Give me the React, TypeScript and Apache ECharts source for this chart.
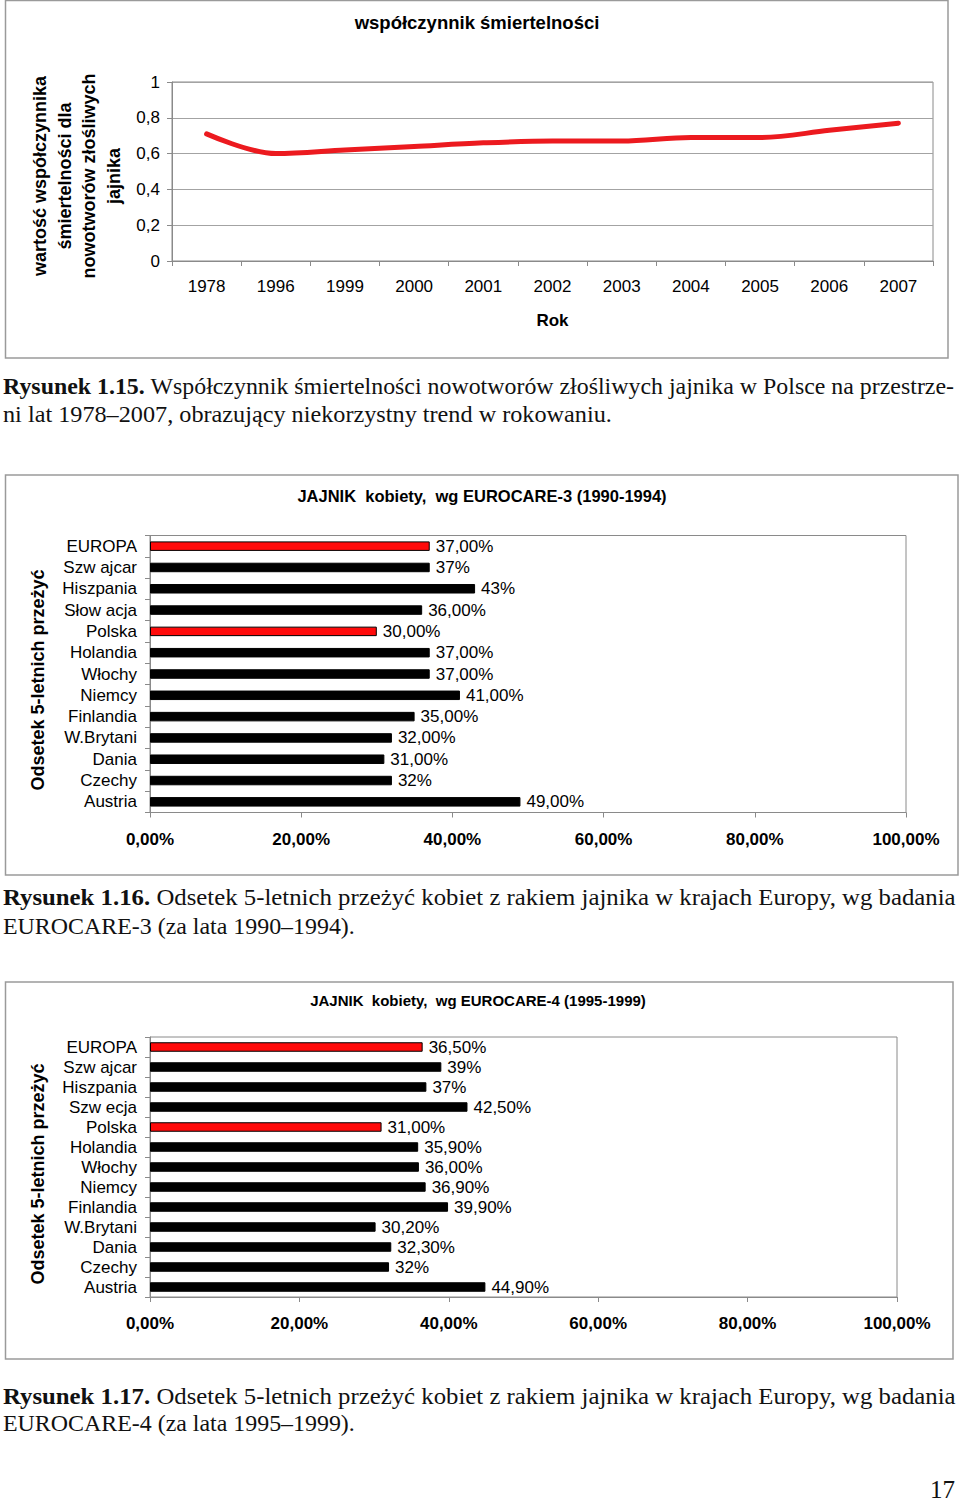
import React, { useEffect, useRef } from "react";
import * as echarts from "echarts";

// ---------- DATA ----------
const years = ["1978", "1996", "1999", "2000", "2001", "2002", "2003", "2004", "2005", "2006", "2007"];
const mortality = [0.71, 0.6, 0.62, 0.64, 0.66, 0.67, 0.67, 0.69, 0.69, 0.73, 0.77];
const mortalityTicks = [0, 0.2, 0.4, 0.6, 0.8, 1];

const countries3 = ["EUROPA", "Szw ajcar", "Hiszpania", "Słow acja", "Polska", "Holandia", "Włochy", "Niemcy", "Finlandia", "W.Brytani", "Dania", "Czechy", "Austria"];
const survival3 = [37, 37, 43, 36, 30, 37, 37, 41, 35, 32, 31, 32, 49];
const survival3Labels = ["37,00%", "37%", "43%", "36,00%", "30,00%", "37,00%", "37,00%", "41,00%", "35,00%", "32,00%", "31,00%", "32%", "49,00%"];

const countries4 = ["EUROPA", "Szw ajcar", "Hiszpania", "Szw ecja", "Polska", "Holandia", "Włochy", "Niemcy", "Finlandia", "W.Brytani", "Dania", "Czechy", "Austria"];
const survival4 = [36.5, 39, 37, 42.5, 31, 35.9, 36, 36.9, 39.9, 30.2, 32.3, 32, 44.9];
const survival4Labels = ["36,50%", "39%", "37%", "42,50%", "31,00%", "35,90%", "36,00%", "36,90%", "39,90%", "30,20%", "32,30%", "32%", "44,90%"];

const highlighted = ["EUROPA", "Polska"];
const percentTicks = [0, 20, 40, 60, 80, 100];

const title1 = "współczynnik śmiertelności";
const yName1 = "wartość współczynnika\nśmiertelności dla\nnowotworów złośliwych\njajnika";
const xName1 = "Rok";
const title2 = "JAJNIK  kobiety,  wg EUROCARE-3 (1990-1994)";
const title3 = "JAJNIK  kobiety,  wg EUROCARE-4 (1995-1999)";
const yNameBars = "Odsetek 5-letnich przeżyć";

const captionLines = [
  { bold: "Rysunek 1.15.", rest: " Współczynnik śmiertelności nowotworów złośliwych jajnika w Polsce na przestrze-", y: 386, w: 952 },
  { bold: "", rest: "ni lat 1978–2007, obrazujący niekorzystny trend w rokowaniu.", y: 414, w: 609 },
  { bold: "Rysunek 1.16.", rest: " Odsetek 5-letnich przeżyć kobiet z rakiem jajnika w krajach Europy, wg badania", y: 897, w: 953 },
  { bold: "", rest: "EUROCARE-3 (za lata 1990–1994).", y: 926, w: 352 },
  { bold: "Rysunek 1.17.", rest: " Odsetek 5-letnich przeżyć kobiet z rakiem jajnika w krajach Europy, wg badania", y: 1396, w: 953 },
  { bold: "", rest: "EUROCARE-4 (za lata 1995–1999).", y: 1423, w: 352 },
];
const pageNumber = "17";

// ---------- STYLE ----------
const SANS = '"Liberation Sans", Arial, sans-serif';
const SERIF = '"Liberation Serif", "Times New Roman", serif';
const GRAY = "#8a8a8a";
const BOX = "#9a9a9a";
const CAP_SIZE = 22.5;

function measure(text: string, bold: boolean, size: number): number {
  const c = document.createElement("canvas");
  const ctx = c.getContext("2d");
  if (!ctx) return text.length * size * 0.45;
  ctx.font = `${bold ? "bold " : ""}${size}px "Liberation Serif"`;
  return ctx.measureText(text).width;
}

const pct = (v: number) => v.toFixed(2).replace(".", ",") + "%";

function barSeries(values: number[], cats: string[], labels: string[], idx: number) {
  return {
    type: "bar",
    xAxisIndex: idx,
    yAxisIndex: idx,
    barWidth: 9.5,
    data: values.map((v, i) => ({
      value: v,
      itemStyle: {
        color: highlighted.includes(cats[i]) ? "#ff0a0a" : "#000000",
        borderColor: "#000",
        borderWidth: 1,
      },
    })),
    label: {
      show: true,
      position: "right",
      distance: 6,
      color: "#000",
      fontFamily: SANS,
      fontSize: 17,
      formatter: (p: any) => labels[p.dataIndex],
    },
  };
}

function barXAxis(idx: number) {
  return {
    type: "value",
    gridIndex: idx,
    min: 0,
    max: 100,
    interval: 20,
    axisLine: { show: true, lineStyle: { color: GRAY, width: 1 } },
    axisTick: { show: true, length: 5, lineStyle: { color: GRAY } },
    splitLine: { show: false },
    axisLabel: {
      margin: 18,
      color: "#000",
      fontFamily: SANS,
      fontSize: 17,
      fontWeight: "bold",
      formatter: (v: number) => pct(v),
      customValues: percentTicks,
    },
  };
}

function barYAxis(idx: number, cats: string[]) {
  return {
    type: "category",
    gridIndex: idx,
    inverse: true,
    data: cats,
    axisLine: { show: true, lineStyle: { color: GRAY, width: 1 } },
    axisTick: { show: true, length: 5, lineStyle: { color: GRAY } },
    axisLabel: { margin: 13, color: "#000", fontFamily: SANS, fontSize: 17, interval: 0 },
  };
}

export default function App() {
  const ref = useRef<HTMLDivElement>(null);

  useEffect(() => {
    if (!ref.current) return;
    const chart = echarts.init(ref.current, null, { renderer: "svg" });

    const captionGraphics = captionLines.map((l) => {
      const wNat = measure(l.bold, true, CAP_SIZE) + measure(l.rest, false, CAP_SIZE);
      const sx = l.w / wNat;
      const text = l.bold ? `{b|${l.bold}}{r|${l.rest}}` : `{r|${l.rest}}`;
      return {
        type: "text",
        x: 3,
        y: l.y,
        scaleX: sx,
        style: {
          text,
          align: "left",
          verticalAlign: "middle",
          fill: "#111",
          fontFamily: SERIF,
          fontSize: CAP_SIZE,
          rich: {
            b: { fontFamily: SERIF, fontSize: CAP_SIZE, fontWeight: "bold", fill: "#111" },
            r: { fontFamily: SERIF, fontSize: CAP_SIZE, fill: "#111" },
          },
        },
      };
    });

    const option: any = {
      animation: false,
      backgroundColor: "#fff",
      grid: [
        { left: 172, top: 82, width: 761, height: 179, show: true, borderColor: GRAY, borderWidth: 1, containLabel: false },
        { left: 150, top: 535.5, width: 756, height: 277, show: true, borderColor: GRAY, borderWidth: 1, containLabel: false },
        { left: 150, top: 1037, width: 747, height: 260, show: true, borderColor: GRAY, borderWidth: 1, containLabel: false },
      ],
      xAxis: [
        {
          type: "category",
          gridIndex: 0,
          data: years,
          boundaryGap: true,
          axisLine: { show: true, lineStyle: { color: GRAY, width: 1 } },
          axisTick: { show: true, length: 5, interval: 0, lineStyle: { color: GRAY } },
          axisLabel: { margin: 17, color: "#000", fontFamily: SANS, fontSize: 17, interval: 0 },
          name: xName1,
          nameLocation: "middle",
          nameGap: 51,
          nameTextStyle: { color: "#000", fontFamily: SANS, fontSize: 17, fontWeight: "bold" },
        },
        barXAxis(1),
        barXAxis(2),
      ],
      yAxis: [
        {
          type: "value",
          gridIndex: 0,
          min: 0,
          max: 1,
          interval: 0.2,
          axisLine: { show: true, lineStyle: { color: GRAY, width: 1 } },
          axisTick: { show: true, length: 5, lineStyle: { color: GRAY } },
          splitLine: { show: true, lineStyle: { color: "#a3a3a3", width: 1 } },
          axisLabel: {
            margin: 12,
            color: "#000",
            fontFamily: SANS,
            fontSize: 17,
            customValues: mortalityTicks,
            formatter: (v: number) => String(Math.round(v * 10) / 10).replace(".", ","),
          },
        },
        barYAxis(1, countries3),
        barYAxis(2, countries4),
      ],
      series: [
        {
          type: "line",
          xAxisIndex: 0,
          yAxisIndex: 0,
          data: mortality,
          smooth: 0.35,
          symbol: "none",
          lineStyle: { color: "#ec1a1f", width: 5, cap: "round", join: "round" },
        },
        barSeries(survival3, countries3, survival3Labels, 1),
        barSeries(survival4, countries4, survival4Labels, 2),
      ],
      graphic: [
        { type: "rect", shape: { x: 5.5, y: 0.5, width: 942.5, height: 357.5 }, style: { fill: "none", stroke: BOX, lineWidth: 1.5 } },
        { type: "rect", shape: { x: 5.5, y: 475, width: 952.5, height: 400 }, style: { fill: "none", stroke: BOX, lineWidth: 1.5 } },
        { type: "rect", shape: { x: 5.5, y: 982, width: 947.5, height: 377 }, style: { fill: "none", stroke: BOX, lineWidth: 1.5 } },
        {
          type: "text", x: 477, y: 22,
          style: { text: title1, align: "center", verticalAlign: "middle", fill: "#000", fontFamily: SANS, fontSize: 18.5, fontWeight: "bold" },
        },
        {
          type: "text", x: 77, y: 176, rotation: Math.PI / 2,
          style: { text: yName1, align: "center", verticalAlign: "middle", fill: "#000", fontFamily: SANS, fontSize: 18, fontWeight: "bold", lineHeight: 24.6 },
        },
        {
          type: "text", x: 482, y: 496,
          style: { text: title2, align: "center", verticalAlign: "middle", fill: "#000", fontFamily: SANS, fontSize: 16.5, fontWeight: "bold" },
        },
        {
          type: "text", x: 38, y: 680, rotation: Math.PI / 2,
          style: { text: yNameBars, align: "center", verticalAlign: "middle", fill: "#000", fontFamily: SANS, fontSize: 18, fontWeight: "bold" },
        },
        {
          type: "text", x: 478, y: 1000,
          style: { text: title3, align: "center", verticalAlign: "middle", fill: "#000", fontFamily: SANS, fontSize: 15, fontWeight: "bold" },
        },
        {
          type: "text", x: 38, y: 1174, rotation: Math.PI / 2,
          style: { text: yNameBars, align: "center", verticalAlign: "middle", fill: "#000", fontFamily: SANS, fontSize: 18, fontWeight: "bold" },
        },
        ...captionGraphics,
        {
          type: "text", x: 955, y: 1489,
          style: { text: pageNumber, align: "right", verticalAlign: "middle", fill: "#111", fontFamily: SERIF, fontSize: 25 },
        },
      ],
    };

    chart.setOption(option);
    return () => chart.dispose();
  }, []);

  return (
    <div
      ref={ref}
      style={{ position: "absolute", left: 0, top: 0, width: 960, height: 1502, background: "#fff" }}
    />
  );
}
